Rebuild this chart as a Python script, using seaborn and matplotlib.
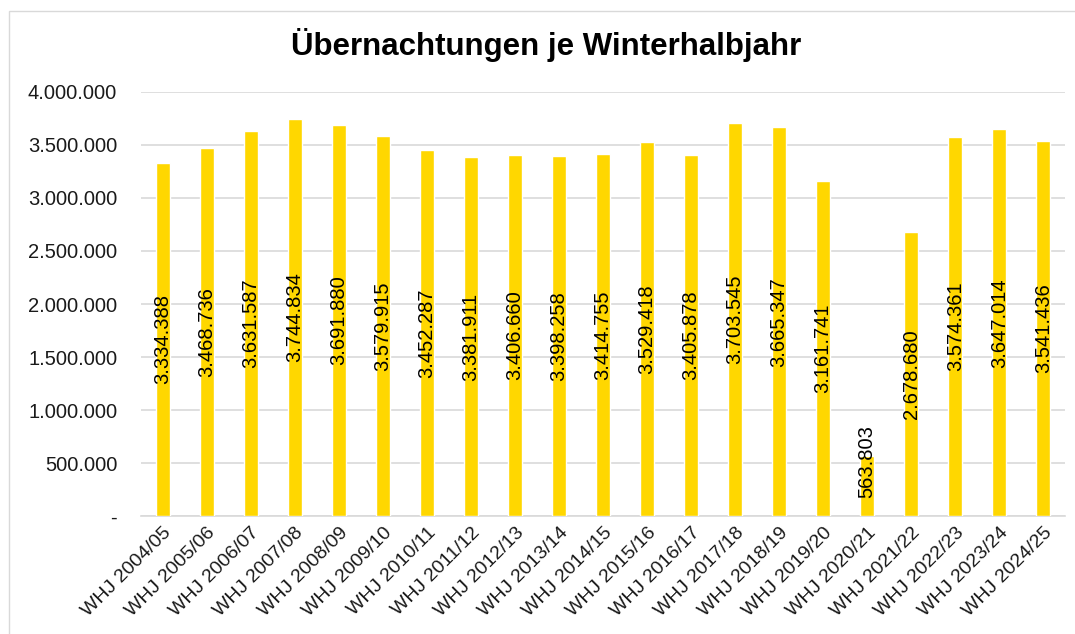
import matplotlib
matplotlib.use("Agg")
import matplotlib.pyplot as plt
import matplotlib.ticker as mticker
import seaborn as sns
import pandas as pd

seasons = ['WHJ 2004/05', 'WHJ 2005/06', 'WHJ 2006/07', 'WHJ 2007/08', 'WHJ 2008/09',
           'WHJ 2009/10', 'WHJ 2010/11', 'WHJ 2011/12', 'WHJ 2012/13', 'WHJ 2013/14',
           'WHJ 2014/15', 'WHJ 2015/16', 'WHJ 2016/17', 'WHJ 2017/18', 'WHJ 2018/19',
           'WHJ 2019/20', 'WHJ 2020/21', 'WHJ 2021/22', 'WHJ 2022/23', 'WHJ 2023/24',
           'WHJ 2024/25']
nights = [3334388, 3468736, 3631587, 3744834, 3691880, 3579915, 3452287, 3381911,
          3406660, 3398258, 3414755, 3529418, 3405878, 3703545, 3665347, 3161741,
          563803, 2678680, 3574361, 3647014, 3541436]

df = pd.DataFrame({'season': seasons, 'nights': nights})


def de_fmt(v):
    return f'{int(round(v)):,}'.replace(',', '.')


sns.set_style('white')
plt.rcParams['font.family'] = ['Liberation Sans', 'DejaVu Sans']

fig = plt.figure(figsize=(10.75, 6.34), dpi=100)
ax = fig.add_axes([0.131, 0.186, 0.860, 0.669])

sns.barplot(data=df, x='season', y='nights', color='#FFD700', saturation=1,
            width=0.32, ax=ax, zorder=3)

# labels centred in the bar, but kept off the axis for short bars (like Excel)
for i, v in enumerate(nights):
    ax.text(i, max(v / 2, 510000), de_fmt(v), rotation=90, ha='center', va='center',
            fontsize=14.5, color='black', zorder=4)

ax.set_ylim(0, 4000000)
ax.set_xlim(-0.5, len(seasons) - 0.5)
ax.yaxis.set_major_locator(mticker.MultipleLocator(500000))
ax.yaxis.set_major_formatter(mticker.FuncFormatter(lambda v, p: '-' if v == 0 else de_fmt(v)))
ax.grid(axis='y', color='#D9D9D9', linewidth=1.2, zorder=0)
for s in ['top', 'right', 'left']:
    ax.spines[s].set_visible(False)
ax.spines['bottom'].set_color('#D9D9D9')
ax.spines['bottom'].set_linewidth(1.2)
ax.tick_params(axis='y', labelsize=14.5, length=0, pad=17, colors='#1a1a1a')
ax.tick_params(axis='x', labelsize=14, length=0, pad=6, colors='#1a1a1a')
plt.setp(ax.get_xticklabels(), rotation=45, ha='right', rotation_mode='anchor')
ax.set_xlabel('')
ax.set_ylabel('')

fig.text(0.508, 0.929, 'Übernachtungen je Winterhalbjahr', ha='center', va='center',
         fontsize=22.5, fontweight='bold', color='black')

border = plt.Rectangle((0.008, -0.01), 1.1, 0.993, transform=fig.transFigure,
                       fill=False, edgecolor='#D9D9D9', linewidth=1)
fig.patches.append(border)

fig.savefig('out.png', dpi=100)
